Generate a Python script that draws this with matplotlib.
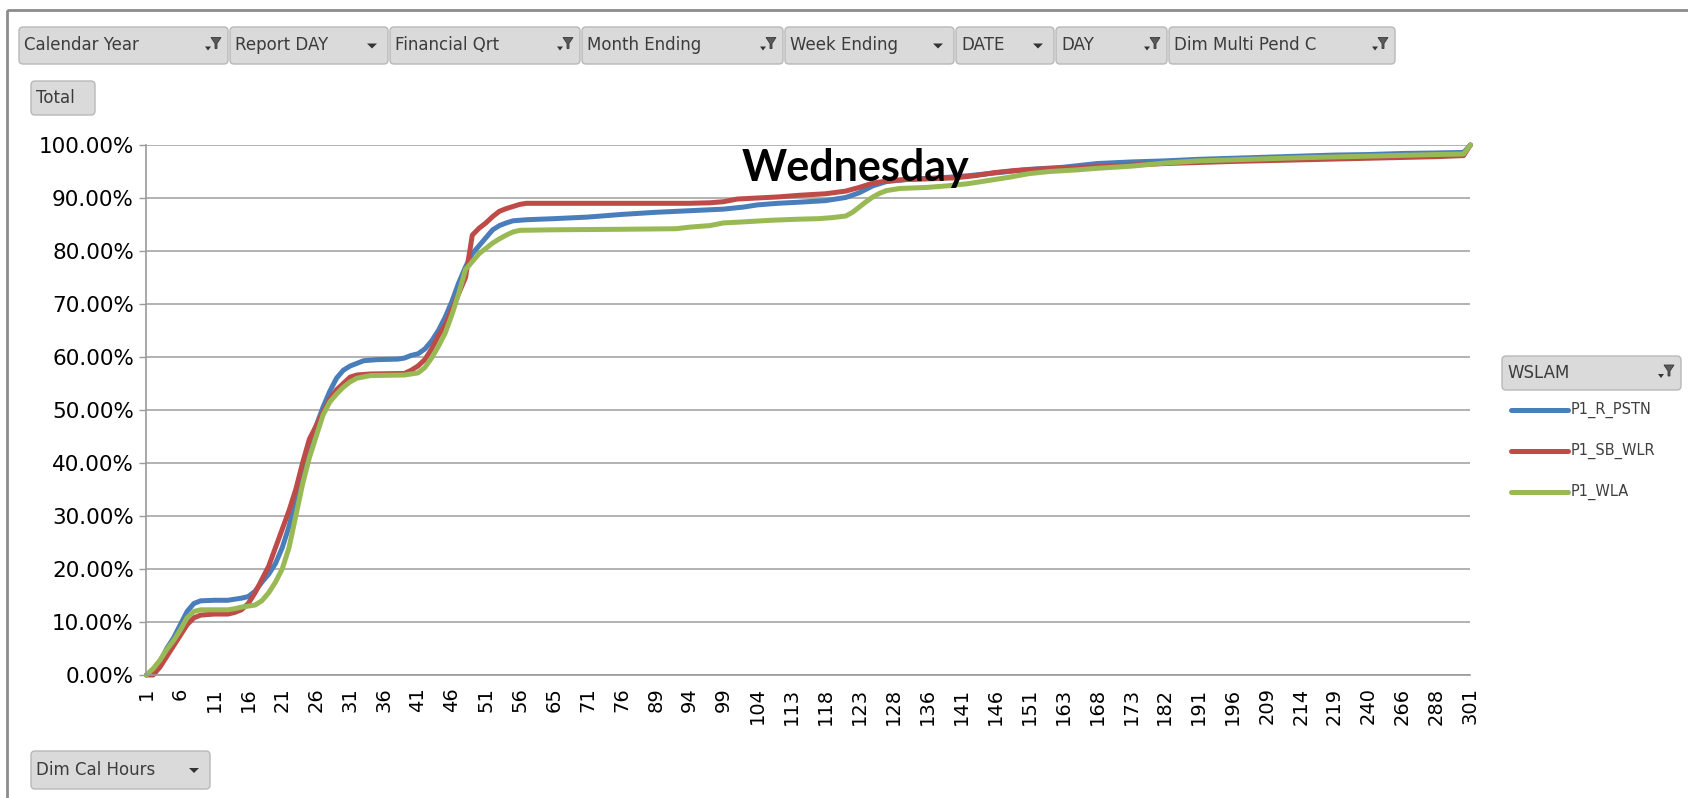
import numpy as np
import matplotlib.pyplot as plt
from matplotlib.patches import FancyBboxPatch, Polygon, Rectangle
from matplotlib.lines import Line2D
from matplotlib.transforms import Affine2D

W, H = 1688, 798

# x axis: 196 categories (Dim Cal Hours), every 5th one is labelled
n_cat = 196
hour_labels = ['1', '6', '11', '16', '21', '26', '31', '36', '41', '46', '51', '56',
               '65', '71', '76', '89', '94', '99', '104', '113', '118', '123', '128',
               '136', '141', '146', '151', '163', '168', '173', '182', '191', '196',
               '209', '214', '219', '240', '266', '288', '301']

# cumulative %, at category positions
pstn_x = [0, 1, 2, 3, 4, 5, 6, 7, 8, 10, 12, 14, 15, 16, 17, 18, 19, 20, 21, 22, 23, 24,
          25, 26, 27, 28, 29, 30, 31, 32, 34, 37, 38, 39, 40, 41, 42, 43, 44, 45, 46, 47,
          48, 49, 50, 51, 52, 53, 54, 56, 60, 65, 70, 75, 80, 85, 88, 90, 93, 96, 100,
          103, 105, 107, 109, 112, 115, 118, 121, 124, 127, 130, 135, 140, 145,
          150, 155, 160, 165, 170, 175, 180, 185, 190, 194, 195]
pstn_y = [0, 1.0, 2.5, 5, 7, 9.5, 12, 13.5, 14, 14.1, 14.1, 14.5, 14.8, 15.8, 17.5, 19,
          21, 24, 28, 33, 38, 43, 47, 50.5, 53.5, 56, 57.5, 58.3, 58.8, 59.3, 59.5, 59.6,
          59.8, 60.3, 60.6, 61.5, 63, 65, 67.5, 70.5, 74, 77, 79.5, 81, 82.5, 84, 84.8,
          85.3, 85.7, 85.9, 86.1, 86.4, 86.9, 87.3, 87.6, 87.9, 88.3, 88.7, 89.0, 89.2,
          89.5, 90.1, 91.0, 92.3, 93.1, 93.5, 93.7, 93.9, 94.2, 94.6, 95, 95.4, 95.8,
          96.5, 96.8, 97, 97.3, 97.5, 97.7, 97.9, 98.1, 98.2, 98.4, 98.5, 98.6, 100]

wlr_x = [0, 1, 2, 3, 4, 5, 6, 7, 8, 10, 12, 13, 14, 15, 16, 17, 18, 19, 20, 21, 22, 23,
         24, 25, 26, 27, 28, 29, 30, 31, 33, 38, 39, 40, 41, 42, 43, 44, 45, 46, 47, 48,
         49, 50, 51, 52, 53, 54, 55, 56, 60, 70, 80, 83, 85, 87, 90, 93, 96, 100, 103,
         105, 107, 109, 112, 115, 119, 122, 125, 128, 132, 138, 145, 150, 160, 170,
         180, 190, 194, 195]
wlr_y = [0, 0, 1.5, 3.5, 5.5, 7.5, 9.5, 10.8, 11.3, 11.5, 11.5, 11.8, 12.3, 13.5, 15.5,
         18, 20.5, 24, 27.5, 31, 35, 40, 44.5, 47, 49.5, 52, 53.8, 55, 56.2, 56.6, 56.8,
         56.9, 57.5, 58.3, 59.5, 61.5, 64, 66, 69, 72, 75, 83, 84.3, 85.3, 86.5, 87.5,
         88, 88.4, 88.8, 89, 89, 89, 89, 89.1, 89.3, 89.8, 90, 90.2, 90.5, 90.8, 91.3,
         92, 92.8, 93.2, 93.5, 93.6, 93.8, 94.2, 94.8, 95.2, 95.5, 95.8, 96.2, 96.5,
         96.9, 97.2, 97.5, 97.8, 98, 100]

wla_x = [0, 1, 2, 3, 4, 5, 6, 7, 8, 12, 13, 14, 15, 16, 17, 18, 19, 20, 21, 22, 23, 24,
         25, 26, 27, 28, 29, 30, 31, 33, 38, 40, 41, 42, 43, 44, 45, 46, 47, 48, 49, 50,
         51, 52, 53, 54, 55, 60, 70, 78, 80, 83, 85, 88, 92, 96, 99, 101, 103, 104, 105,
         106, 107, 108, 109, 111, 115, 118, 121, 124, 127, 130, 133, 137, 140, 145,
         150, 155, 160, 170, 180, 190, 194, 195]
wla_y = [0, 1.2, 2.8, 4.8, 6.5, 8.5, 10.8, 12, 12.3, 12.3, 12.5, 12.8, 13, 13.2, 14,
         15.5, 17.5, 20, 24, 30, 36, 41, 45, 49, 51.5, 53, 54.3, 55.3, 56, 56.5, 56.6,
         57, 58, 59.8, 62, 64.5, 68, 72, 76.5, 78, 79.5, 80.5, 81.5, 82.3, 83, 83.6,
         83.9, 84, 84.1, 84.2, 84.5, 84.8, 85.3, 85.5, 85.8, 86, 86.1, 86.3, 86.6, 87.3,
         88.3, 89.3, 90.2, 90.9, 91.4, 91.8, 92, 92.3, 92.7, 93.3, 93.9, 94.6, 95, 95.3,
         95.6, 96, 96.6, 97, 97.2, 97.6, 97.9, 98.2, 98.3, 100]

series_names = ['P1_R_PSTN', 'P1_SB_WLR', 'P1_WLA']
colors = ['#4A7EBB', '#BE4B48', '#98B954']

filters = [('Calendar Year', 'funnel'), ('Report DAY', 'arrow'), ('Financial Qrt', 'funnel'),
           ('Month Ending', 'funnel'), ('Week Ending', 'arrow'), ('DATE', 'arrow'),
           ('DAY', 'funnel'), ('Dim Multi Pend C', 'funnel')]
filter_edges = [18, 229, 389, 581, 784, 955, 1055, 1168, 1396]

fig = plt.figure(figsize=(W / 100, H / 100), dpi=100)
fig.patch.set_facecolor('white')
# pixel coordinates, origin top-left
px = Affine2D().scale(1 / W, -1 / H).translate(0, 1) + fig.transFigure

# outer chart frame
fig.add_artist(Rectangle((7, 10), 1800, 900, transform=px, fill=False,
                         ec='#8C8C8C', lw=2))


def funnel(cx, cy):
    fig.add_artist(Polygon([(cx - 5, cy - 8), (cx + 5, cy - 8), (cx + 1, cy - 2),
                            (cx + 1, cy + 3), (cx - 1, cy + 3), (cx - 1, cy - 2)],
                           closed=True, transform=px, fc='#5A5A5A', ec='#3A3A3A', lw=0.6))
    fig.add_artist(Polygon([(cx - 11, cy + 1), (cx - 5, cy + 1), (cx - 8, cy + 5)],
                           closed=True, transform=px, fc='#333333', ec='none'))


def arrow(cx, cy):
    fig.add_artist(Polygon([(cx - 5, cy - 2), (cx + 5, cy - 2), (cx, cy + 3)],
                           closed=True, transform=px, fc='#333333', ec='none'))


def button(x0, y0, x1, y1, label, icon=None, size=12):
    fig.add_artist(FancyBboxPatch((x0, y0), x1 - x0, y1 - y0,
                                  boxstyle='round,pad=0,rounding_size=4', transform=px,
                                  fc='#DADADA', ec='#B8B8B8', lw=1))
    fig.text(x0 + 5, (y0 + y1) / 2, label, transform=px, ha='left', va='center',
             fontsize=size, color='#3C3C3C')
    if icon == 'funnel':
        funnel(x1 - 12, (y0 + y1) / 2)
    elif icon == 'arrow':
        arrow(x1 - 16, (y0 + y1) / 2)


for (label, icon), x0, x1 in zip(filters, filter_edges[:-1], filter_edges[1:]):
    button(x0 + 1, 27, x1 - 1, 64, label, icon)
button(31, 81, 95, 115, 'Total')
button(31, 751, 210, 789, 'Dim Cal Hours', 'arrow')
button(1502, 356, 1681, 390, 'WSLAM', 'funnel')

ax = fig.add_axes([146.4 / W, 1 - 675 / H, 1324 / W, 530 / H])
for xs, ys, c, name in zip([pstn_x, wlr_x, wla_x], [pstn_y, wlr_y, wla_y], colors, series_names):
    ax.plot(xs, ys, color=c, lw=3.6, solid_joinstyle='round', solid_capstyle='round',
            label=name, clip_on=False)

ax.set_xlim(0, n_cat - 1)
ax.set_ylim(0, 100)
ax.set_yticks(np.arange(0, 101, 10))
ax.set_yticklabels([f'{v:.2f}%' for v in np.arange(0, 101, 10)])
ax.set_xticks(np.arange(0, n_cat, 5))
ax.set_xticklabels(hour_labels, rotation=90)
ax.set_xticks(np.arange(0, n_cat - 1, 10), minor=True)
ax.tick_params(axis='x', which='major', length=0, pad=9, labelsize=14)
ax.tick_params(axis='x', which='minor', length=5, width=1, color='#9A9A9A')
ax.tick_params(axis='y', length=5, width=1, color='#9A9A9A', pad=4, labelsize=15.5)
ax.grid(axis='y', color='#A6A6A6', lw=1.2)
ax.set_axisbelow(True)
for s in ['top', 'right']:
    ax.spines[s].set_visible(False)
for s in ['left', 'bottom']:
    ax.spines[s].set_color('#9A9A9A')
    ax.spines[s].set_linewidth(1.2)

# legend drawn by hand, as in the pivot chart field list
for i, (name, c) in enumerate(zip(series_names, colors)):
    y = 410 + i * 41
    fig.add_artist(Line2D([1511, 1568], [y, y], transform=px, color=c, lw=3.6,
                          solid_capstyle='round'))
    fig.text(1571, y, name, transform=px, ha='left', va='center', fontsize=10.5,
             color='#404040')

fig.text(855, 181, 'Wednesday', transform=px, ha='center', va='baseline',
         fontsize=31, fontweight='bold', family=['Lato', 'DejaVu Sans'], zorder=10)

fig.savefig('out.png', dpi=100, facecolor='white')
